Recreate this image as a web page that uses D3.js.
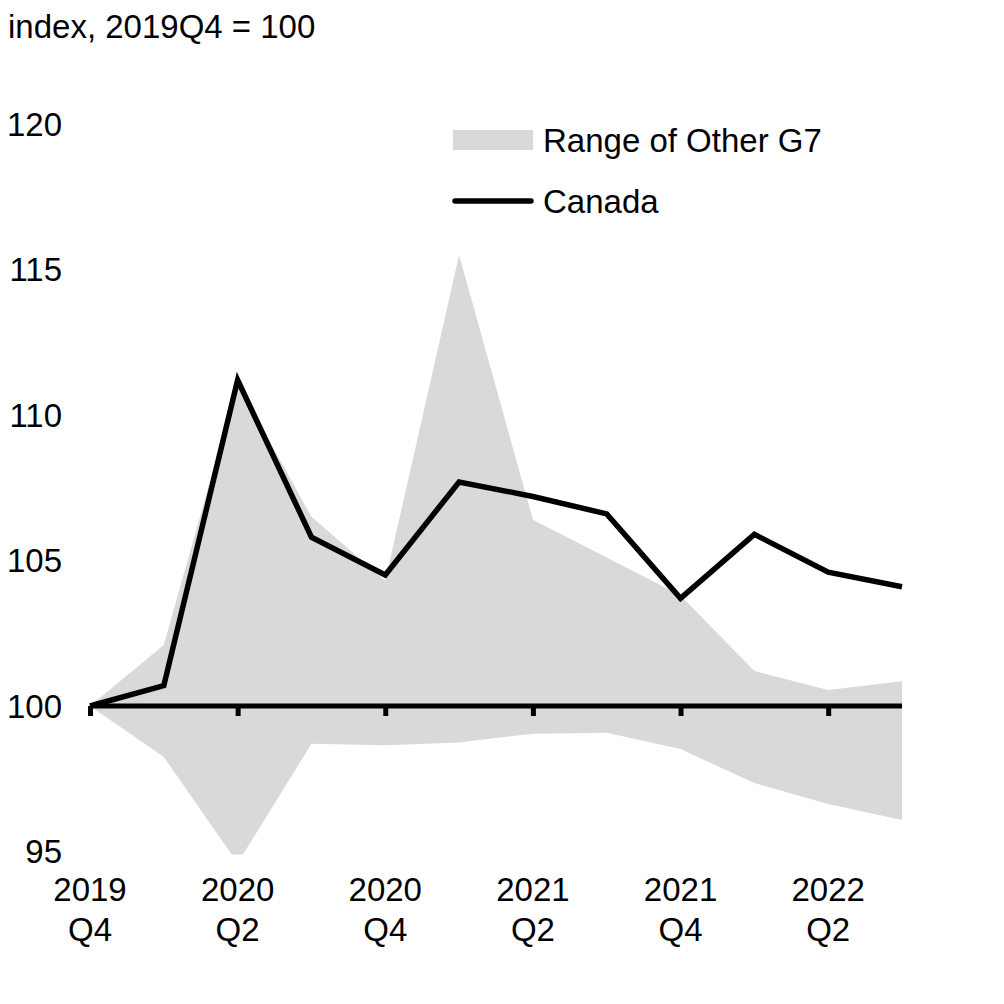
<!DOCTYPE html>
<html><head><meta charset="utf-8">
<script src="https://cdn.jsdelivr.net/npm/d3@7"></script>
<style>body{margin:0;background:#fff}svg{display:block}text{font-family:"Liberation Sans",Arial,sans-serif;fill:#000}</style>
</head><body><svg id="c" width="1004" height="1004"></svg>
<script>
const quarters = ["2019Q4","2020Q1","2020Q2","2020Q3","2020Q4","2021Q1","2021Q2","2021Q3","2021Q4","2022Q1","2022Q2","2022Q3"];
const canada   = [100, 100.7, 111.2, 105.8, 104.5, 107.7, 107.2, 106.6, 103.7, 105.9, 104.6, 104.1];
const rangeHigh= [100, 102.1, 111.1, 106.5, 104.3, 115.5, 106.4, 105.1, 103.8, 101.2, 100.55, 100.85];
const rangeLow = [100, 98.25, 94.6, 98.7, 98.65, 98.75, 99.05, 99.08, 98.52, 97.35, 96.63, 96.08];
const tickQuarters = ["2019Q4","2020Q2","2020Q4","2021Q2","2021Q4","2022Q2"];
const tickLabels = [["2019","Q4"],["2020","Q2"],["2020","Q4"],["2021","Q2"],["2021","Q4"],["2022","Q2"]];
const yTicks = [95,100,105,110,115,120];
const unitLabel = "index, 2019Q4 = 100";
const legendLabels = ["Range of Other G7","Canada"];

const FS = 33;
const svg = d3.select("#c");
const x = d3.scalePoint().domain(quarters).range([90, 902]);
const y = d3.scaleLinear().domain([95,120]).range([851.5,124]);

svg.append("defs").append("clipPath").attr("id","plot")
  .append("rect").attr("x",0).attr("y",y(120)).attr("width",1004).attr("height",y(95)-y(120)+3);

const data = quarters.map((q,i)=>({q, c:canada[i], hi:rangeHigh[i], lo:rangeLow[i]}));

svg.append("path").datum(data)
  .attr("clip-path","url(#plot)")
  .attr("fill","#d9d9d9")
  .attr("d", d3.area().x(d=>x(d.q)).y0(d=>y(d.lo)).y1(d=>y(d.hi)));

// x axis at 100
const xAxis = d3.axisBottom(x).tickValues(tickQuarters).tickSize(10).tickFormat("");
const gx = svg.append("g").attr("transform",`translate(0,${y(100)})`).call(xAxis);
gx.select(".domain").attr("d",`M${x(quarters[0])},0H${x(quarters[quarters.length-1])}`).attr("stroke","#000").attr("stroke-width",5);
gx.selectAll(".tick line").attr("stroke","#000").attr("stroke-width",5);

// x labels
const lab = svg.append("g");
tickQuarters.forEach((q,i)=>{
  const t = lab.append("text").attr("x",x(q)).attr("text-anchor","middle").attr("font-size",FS);
  t.append("tspan").attr("x",x(q)).attr("y",901).text(tickLabels[i][0]);
  t.append("tspan").attr("x",x(q)).attr("y",941).text(tickLabels[i][1]);
});

// y labels
const yAxis = d3.axisLeft(y).tickValues(yTicks).tickSize(0).tickPadding(0);
const gy = svg.append("g").attr("transform","translate(62,0)").call(yAxis);
gy.select(".domain").remove();
gy.selectAll("text").attr("font-size",FS).attr("font-family",null).attr("fill","#000").attr("dy","0.34em");

// Canada line
svg.append("path").datum(data)
  .attr("fill","none").attr("stroke","#000").attr("stroke-width",5.5)
  .attr("stroke-linejoin","miter").attr("stroke-linecap","butt")
  .attr("d", d3.line().x(d=>x(d.q)).y(d=>y(d.c)));

// title
svg.append("text").attr("x",8).attr("y",38).attr("font-size",FS).text(unitLabel);

// legend
const lg = svg.append("g");
lg.append("rect").attr("x",453).attr("y",130).attr("width",80).attr("height",20).attr("fill","#d9d9d9");
lg.append("text").attr("x",543).attr("y",152).attr("font-size",FS).text(legendLabels[0]);
lg.append("line").attr("x1",455).attr("x2",531).attr("y1",201).attr("y2",201).attr("stroke","#000").attr("stroke-width",5.5).attr("stroke-linecap","round");
lg.append("text").attr("x",543).attr("y",213).attr("font-size",FS).text(legendLabels[1]);
</script></body></html>
